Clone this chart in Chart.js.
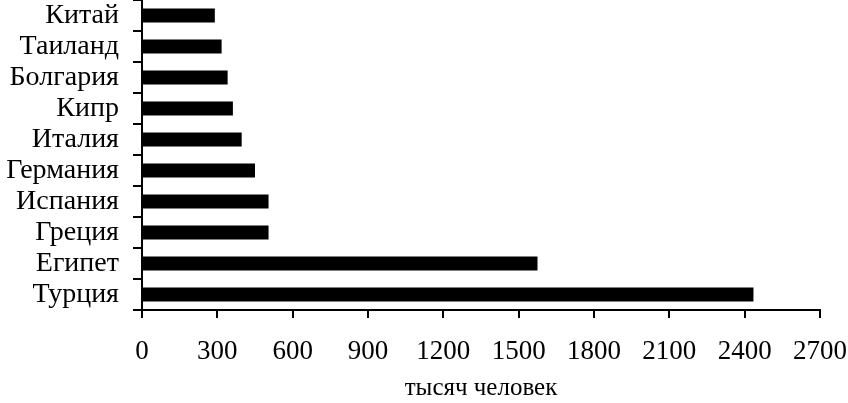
<!DOCTYPE html>
<html>
<head>
    <title>Туристы по странам</title>
    <style>
        body {
            margin: 0;
            background: #fff;
        }
        .wrap {
            width: 848px;
            height: 403px;
        }
    </style>
    <script src="https://cdn.jsdelivr.net/npm/chart.js"></script>
</head>
<body>
    <div class="wrap">
        <canvas id="tourChart"></canvas>
    </div>

    <script>
        // Страны (сверху вниз) и число туристов, тыс. человек
        const countries = ['Китай', 'Таиланд', 'Болгария', 'Кипр', 'Италия', 'Германия', 'Испания', 'Греция', 'Египет', 'Турция'];
        const tourists = [290, 317, 341, 362, 397, 450, 504, 504, 1575, 2435];
        const xTicks = [0, 300, 600, 900, 1200, 1500, 1800, 2100, 2400, 2700];
        const xTitle = 'тысяч человек';

        const serif = "'Liberation Serif', 'Times New Roman', serif";

        const ctx = document.getElementById('tourChart').getContext('2d');
        const tourChart = new Chart(ctx, {
            type: 'bar',
            data: {
                labels: countries,
                datasets: [{
                    data: tourists,
                    backgroundColor: '#000',
                    borderWidth: 0,
                    barPercentage: 0.45,
                    categoryPercentage: 1
                }]
            },
            options: {
                indexAxis: 'y',
                responsive: true,
                maintainAspectRatio: false,
                animation: false,
                layout: {
                    padding: { top: 0, right: 28, left: 0, bottom: 0 }
                },
                plugins: {
                    legend: { display: false },
                    tooltip: { enabled: false }
                },
                scales: {
                    x: {
                        min: 0,
                        max: 2700,
                        afterBuildTicks: scale => {
                            scale.ticks = xTicks.map(v => ({ value: v }));
                        },
                        afterFit: scale => {
                            scale.height = 93;
                            scale.paddingLeft = 0;
                            scale.paddingRight = 0;
                        },
                        border: { display: true, color: '#000', width: 2 },
                        grid: {
                            drawOnChartArea: false,
                            drawTicks: true,
                            tickLength: 8,
                            color: '#000',
                            lineWidth: 2
                        },
                        ticks: {
                            color: '#000',
                            font: { family: serif, size: 27 },
                            padding: 18,
                            maxRotation: 0,
                            autoSkip: false,
                            callback: v => String(v)
                        },
                        title: {
                            display: true,
                            text: xTitle,
                            color: '#000',
                            font: { family: serif, size: 25 },
                            padding: { top: 0, bottom: 0 }
                        }
                    },
                    y: {
                        afterFit: scale => {
                            scale.width = 142;
                            scale.paddingTop = 0;
                            scale.paddingBottom = 0;
                        },
                        border: { display: true, color: '#000', width: 2 },
                        grid: {
                            offset: true,
                            drawOnChartArea: false,
                            drawTicks: true,
                            tickLength: 9,
                            color: '#000',
                            lineWidth: 2
                        },
                        ticks: {
                            color: '#000',
                            font: { family: serif, size: 28 },
                            padding: 14,
                            autoSkip: false
                        }
                    }
                }
            }
        });
    </script>
</body>
</html>
